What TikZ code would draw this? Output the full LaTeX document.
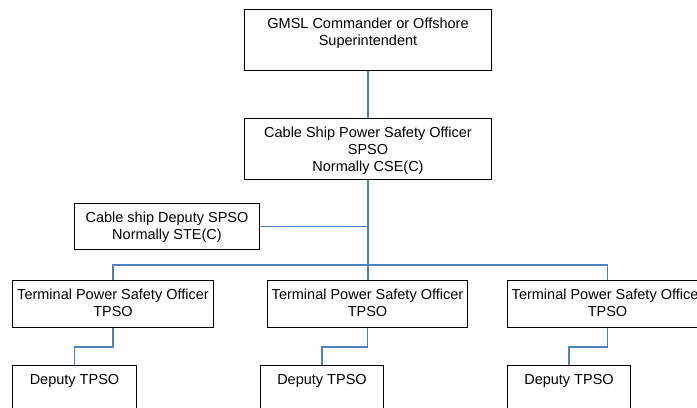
\documentclass[tikz,border=0pt]{standalone}
\usepackage{fontspec}
\setmainfont{Liberation Sans}
\definecolor{linkblue}{RGB}{79,129,189}
\newcommand{\boxtxt}[3]{\parbox[c][#2bp][t]{#1bp}{\centering\vspace*{7bp}\strut #3\par}}
\tikzset{
  orgbox/.style={draw=black, line width=1bp, inner sep=0pt, anchor=north west, font=\fontsize{14.5bp}{17bp}\selectfont},
  link/.style={draw=linkblue, line width=1.2bp}
}
\begin{document}
\begin{tikzpicture}[x=1bp,y=-1bp]
\useasboundingbox (0,0) rectangle (697,407);
\node[orgbox] (gmsl) at (244,9) {\boxtxt{247}{61}{GMSL Commander or Offshore\\Superintendent}};
\node[orgbox] (spso) at (244,118) {\boxtxt{247}{61}{Cable Ship Power Safety Officer\\SPSO\\Normally CSE(C)}};
\node[orgbox] (dspso) at (74,203) {\boxtxt{185}{46}{Cable ship Deputy SPSO\\Normally STE(C)}};
\node[orgbox] (tpsoa) at (12,280) {\boxtxt{201}{47}{Terminal Power Safety Officer\\TPSO}};
\node[orgbox] (tpsob) at (267,280) {\boxtxt{200}{47}{Terminal Power Safety Officer\\TPSO}};
\node[orgbox] (tpsoc) at (507,280) {\boxtxt{200}{47}{Terminal Power Safety Officer\\TPSO}};
\node[orgbox] (dtpsoa) at (12,365) {\boxtxt{124}{50}{Deputy TPSO}};
\node[orgbox] (dtpsob) at (260,365) {\boxtxt{123}{50}{Deputy TPSO}};
\node[orgbox] (dtpsoc) at (507,365) {\boxtxt{123}{50}{Deputy TPSO}};
\coordinate (bus) at (367.5,265);
\draw[link] (gmsl.south) -- (spso.north);
\draw[link] (spso.south) -- (tpsob.north -| spso.south);
\draw[link] (dspso.east) -- (dspso.east -| spso.south);
\draw[link] (tpsoa.north) |- (bus) -| (tpsoc.north);
\draw[link] (tpsoa.south) -- ++(0,19) -| (dtpsoa.north);
\draw[link] (tpsob.south) -- ++(0,19) -| (dtpsob.north);
\draw[link] (tpsoc.south) -- ++(0,19) -| (dtpsoc.north);
\end{tikzpicture}
\end{document}
